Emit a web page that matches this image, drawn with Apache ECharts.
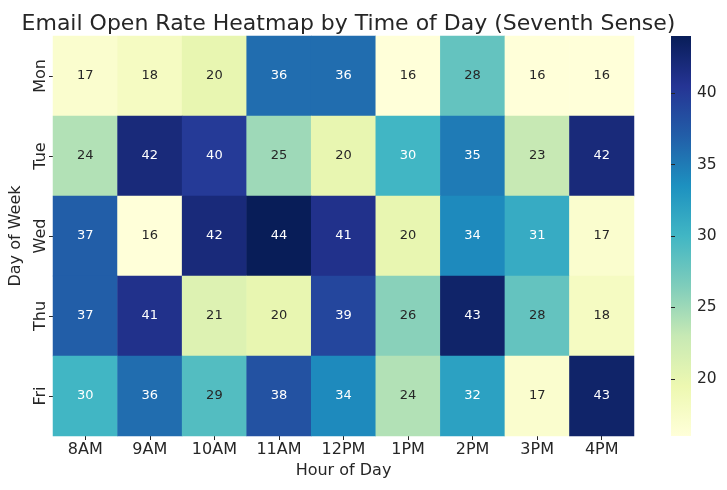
<!DOCTYPE html>
<html><head><meta charset="utf-8">
<script src="https://cdn.jsdelivr.net/npm/echarts@6/dist/echarts.min.js"></script>
<style>html,body{margin:0;padding:0;background:#fff}#c{width:727px;height:490px}</style>
</head><body><div id="c"></div>
<script>
var hours = ['8AM','9AM','10AM','11AM','12PM','1PM','2PM','3PM','4PM'];
var days = ['Mon','Tue','Wed','Thu','Fri'];
var mon = [17,18,20,36,36,16,28,16,16];
var tue = [24,42,40,25,20,30,35,23,42];
var wed = [37,16,42,44,41,20,34,31,17];
var thu = [37,41,21,20,39,26,43,28,18];
var fri = [30,36,29,38,34,24,32,17,43];
var colorbarTicks = [20,25,30,35,40];
var vMin = 16, vMax = 44;
var palette = ['#ffffd9','#edf8b1','#c7e9b4','#7fcdbb','#41b6c4','#1d91c0','#225ea8','#253494','#081d58'];

var rows = [mon,tue,wed,thu,fri];
var data = [];
rows.forEach(function(r,yi){ r.forEach(function(v,xi){ data.push([xi,yi,v]); }); });

var txt = '#262626';
var font = 'DejaVu Sans';
var chart = echarts.init(document.getElementById('c'));
chart.setOption({
  animation:false,
  textStyle:{fontFamily:font},
  title:{text:'Email Open Rate Heatmap by Time of Day (Seventh Sense)',left:343.5,top:8,textAlign:'center',
    textStyle:{fontSize:22,fontWeight:'normal',color:txt,fontFamily:font}},
  grid:[
    {left:53,top:36,width:581,height:400,outerBoundsMode:'none',containLabel:false},
    {left:671,top:36,width:20,height:400,show:true,borderWidth:0,outerBoundsMode:'none',containLabel:false,
      backgroundColor:{type:'linear',x:0,y:1,x2:0,y2:0,colorStops:palette.map(function(c,i){return {offset:i/(palette.length-1),color:c};})}}
  ],
  xAxis:[
    {type:'category',data:hours,gridIndex:0,position:'bottom',
      axisLine:{show:false},axisTick:{show:true,alignWithLabel:true,length:4,lineStyle:{color:txt}},
      axisLabel:{color:txt,fontSize:16,margin:6},splitLine:{show:false},
      name:'Hour of Day',nameLocation:'middle',nameGap:27,nameTextStyle:{color:txt,fontSize:16}},
    {type:'value',gridIndex:1,show:false,min:0,max:1}
  ],
  yAxis:[
    {type:'category',data:days,gridIndex:0,inverse:true,
      axisLine:{show:false},axisTick:{show:true,alignWithLabel:true,length:4,lineStyle:{color:txt}},
      axisLabel:{color:txt,fontSize:16,rotate:90,margin:4},splitLine:{show:false},
      name:'Day of Week',nameLocation:'middle',nameGap:29,nameTextStyle:{color:txt,fontSize:16}},
    {type:'value',gridIndex:1,min:vMin,max:vMax,position:'right',
      axisLine:{show:false},splitLine:{show:false},
      axisTick:{show:true,length:4,customValues:colorbarTicks,lineStyle:{color:txt}},
      axisLabel:{color:txt,fontSize:15.5,margin:6,customValues:colorbarTicks}}
  ],
  visualMap:{show:false,min:vMin,max:vMax,dimension:2,seriesIndex:0,inRange:{color:palette}},
  series:[{
    type:'heatmap',xAxisIndex:0,yAxisIndex:0,
    data:data.map(function(d){return {value:d,label:{color:d[2]>=30?'#ffffff':'#262626'}};}),
    itemStyle:{borderWidth:0},
    label:{show:true,fontSize:13,fontFamily:font,
      formatter:function(p){return p.value[2];}},
    emphasis:{disabled:true}
  }]
});
</script></body></html>
